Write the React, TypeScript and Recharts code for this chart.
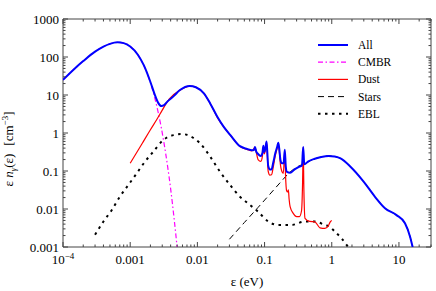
import React from 'react';
import { LineChart, Line, XAxis, YAxis, Legend, ReferenceArea, Label } from 'recharts';

const W = 436;
const H = 291;
const MARGIN = { top: 19, right: 5, left: 0, bottom: 0 };
const Y_AXIS_W = 63;
const X_AXIS_H = 44;
const PLOT_W = W - MARGIN.right - Y_AXIS_W;
const PLOT_H = H - MARGIN.top - X_AXIS_H;
const FRAME = '#444';
const FONT = "'Liberation Serif', 'Times New Roman', 'DejaVu Serif', serif";

// axes
const xDomain = [1e-4, 30];
const yDomain = [1e-3, 1e3];
const xMajor = [1e-4, 1e-3, 1e-2, 0.1, 1, 10];
const xMajorLabels = ['10', '0.001', '0.01', '0.1', '1', '10'];
const yMajor = [1e-3, 1e-2, 0.1, 1, 10, 100, 1000];
const yMajorLabels = ['0.001', '0.01', '0.1', '1', '10', '100', '1000'];

// All (total)
const allE = [1e-4, 1.5e-4, 2e-4, 3e-4, 4e-4, 5e-4, 6.5e-4, 8e-4, 1e-3, 1.3e-3, 1.6e-3, 2e-3, 2.3e-3, 2.6e-3, 2.9e-3, 3.2e-3, 3.6e-3, 4.4e-3, 5.5e-3, 7.7e-3, 9.5e-3, 0.0125, 0.0155, 0.02, 0.025, 0.031, 0.043, 0.055, 0.065, 0.07, 0.072, 0.075, 0.08, 0.088, 0.093, 0.096, 0.099, 0.103, 0.107, 0.11, 0.113, 0.12, 0.127, 0.135, 0.145, 0.155, 0.16, 0.165, 0.172, 0.18, 0.192, 0.2, 0.207, 0.215, 0.24, 0.28, 0.32, 0.36, 0.376, 0.39, 0.45, 0.56, 0.7, 0.9, 1.1, 1.35, 1.9, 3.0, 4.4, 6.2, 9.2, 12.3, 14.6, 16];
const allN = [25, 50, 78, 138, 188, 222, 243, 232, 189, 115, 60, 22, 10.7, 6.3, 5.1, 5.4, 6.8, 9.2, 13.5, 17.3, 16, 11, 6, 2.6, 1.4, 0.88, 0.45, 0.38, 0.35, 0.36, 0.43, 0.33, 0.28, 0.25, 0.3, 0.46, 0.32, 0.4, 0.6, 0.3, 0.14, 0.11, 0.11, 0.17, 0.3, 0.45, 0.55, 0.4, 0.2, 0.16, 0.16, 0.36, 0.13, 0.095, 0.09, 0.11, 0.127, 0.14, 0.43, 0.15, 0.18, 0.21, 0.235, 0.25, 0.24, 0.215, 0.13, 0.052, 0.021, 0.0105, 0.0069, 0.0042, 0.0019, 0.001];

// CMBR
const cmbrE = [1e-4, 1.5e-4, 2e-4, 3e-4, 4e-4, 5e-4, 6.5e-4, 8e-4, 1e-3, 1.3e-3, 1.6e-3, 2e-3, 2.3e-3, 2.6e-3, 2.9e-3, 3.2e-3, 3.6e-3, 4e-3, 4.5e-3, 5e-3, 5.2e-3];
const cmbrN = [25, 50, 78, 138, 188, 222, 243, 232, 189, 115, 59, 21, 8.9, 3.6, 1.4, 0.52, 0.135, 0.034, 0.0057, 0.00095, 0.00045];

// Dust
const dustE = [0.001, 0.0015, 0.002, 0.0025, 0.003, 0.0038, 0.0055, 0.0077, 0.0095, 0.0125, 0.0155, 0.02, 0.025, 0.031, 0.043, 0.055, 0.065, 0.072, 0.075, 0.08, 0.088, 0.093, 0.096, 0.099, 0.103, 0.107, 0.11, 0.113, 0.12, 0.127, 0.135, 0.145, 0.155, 0.16, 0.165, 0.172, 0.18, 0.19, 0.2, 0.205, 0.213, 0.22, 0.226, 0.232, 0.24, 0.267, 0.3, 0.33, 0.355, 0.368, 0.376, 0.385, 0.4, 0.47, 0.56, 0.667, 0.79, 0.89, 0.95, 1.0];
const dustN = [0.16, 0.52, 1.22, 2.3, 4.0, 7.8, 13.4, 17.2, 16, 11, 6, 2.5, 1.4, 0.87, 0.44, 0.37, 0.34, 0.42, 0.32, 0.2, 0.18, 0.25, 0.44, 0.28, 0.36, 0.58, 0.25, 0.1, 0.078, 0.08, 0.13, 0.26, 0.42, 0.53, 0.36, 0.15, 0.1, 0.087, 0.33, 0.08, 0.03, 0.028, 0.032, 0.018, 0.0115, 0.0077, 0.0063, 0.0063, 0.009, 0.05, 0.42, 0.03, 0.0057, 0.0047, 0.0046, 0.0032, 0.0031, 0.0036, 0.0046, 0.005];

// Stars
const starsE = [0.03, 0.05, 0.08, 0.12, 0.17, 0.24, 0.3, 0.4, 0.56, 0.7, 0.9, 1.1, 1.35, 1.9, 3.0, 4.4, 6.2, 9.2, 12.3, 14.6, 16];
const starsN = [0.0016, 0.0044, 0.011, 0.0245, 0.049, 0.094, 0.125, 0.16, 0.21, 0.235, 0.25, 0.24, 0.215, 0.13, 0.052, 0.021, 0.0105, 0.0069, 0.0042, 0.0019, 0.001];

// EBL
const eblE = [3e-4, 4e-4, 5.3e-4, 7e-4, 9.4e-4, 0.00125, 0.00166, 0.0022, 0.0031, 0.0044, 0.0058, 0.0078, 0.0109, 0.0155, 0.0217, 0.0306, 0.043, 0.057, 0.08, 0.113, 0.16, 0.25, 0.4, 0.56, 0.79, 0.94, 1.12, 1.4, 1.75];
const eblN = [0.0021, 0.0047, 0.0093, 0.021, 0.043, 0.087, 0.176, 0.32, 0.65, 0.88, 0.94, 0.83, 0.54, 0.24, 0.096, 0.043, 0.021, 0.014, 0.0085, 0.0047, 0.0038, 0.0038, 0.0047, 0.0047, 0.0038, 0.0034, 0.0025, 0.0017, 0.001];

const toRows = (e: number[], n: number[]) => e.map((v, i) => ({ e: v, n: n[i] }));

const series = [
  { name: 'All', color: '#0000ff', width: 2, dash: undefined as string | undefined },
  { name: 'CMBR', color: '#ff00ff', width: 1.2, dash: '5 2.5 1.5 2.5' },
  { name: 'Dust', color: '#ff0000', width: 1.2, dash: undefined },
  { name: 'Stars', color: '#000000', width: 1, dash: '6 4' },
  { name: 'EBL', color: '#000000', width: 2, dash: '2.5 4.5' },
];

const minor = (majors: number[], max: number) => {
  const out: number[] = [];
  majors.forEach((d) => {
    for (let m = 1; m <= 9; m++) {
      const v = m * d;
      if (v <= max) out.push(v);
    }
  });
  return out;
};
const xTicks = minor(xMajor, xDomain[1]);
const yTicks = minor(yMajor.slice(0, -1), yDomain[1]).concat([1000]);

const textStyle = { fontFamily: FONT };

const XTick = (props: any) => {
  const { x, y, payload } = props;
  const idx = xMajor.indexOf(payload.value);
  const len = idx >= 0 ? 5 : 2.5;
  return (
    <g>
      <line x1={x} y1={y} x2={x} y2={y - len} stroke={FRAME} />
      <line x1={x} y1={y - PLOT_H} x2={x} y2={y - PLOT_H + len} stroke={FRAME} />
      {idx >= 0 && (
        <text x={x} y={y + 17} textAnchor="middle" fontSize={13} style={textStyle} fill="#000">
          {xMajorLabels[idx]}
          {idx === 0 && (
            <tspan dy={-5} fontSize={9}>
              −4
            </tspan>
          )}
        </text>
      )}
    </g>
  );
};

const YTick = (props: any) => {
  const { x, y, payload } = props;
  const idx = yMajor.indexOf(payload.value);
  const len = idx >= 0 ? 5 : 2.5;
  return (
    <g>
      <line x1={x} y1={y} x2={x + len} y2={y} stroke={FRAME} />
      <line x1={x + PLOT_W} y1={y} x2={x + PLOT_W - len} y2={y} stroke={FRAME} />
      {idx >= 0 && (
        <text x={x - 4} y={y + 4.5} textAnchor="end" fontSize={13} style={textStyle} fill="#000">
          {yMajorLabels[idx]}
        </text>
      )}
    </g>
  );
};

const YLabel = () => (
  <text
    transform="translate(13, 149) rotate(-90)"
    textAnchor="middle"
    fontSize={13}
    style={textStyle}
    fill="#000"
  >
    ε <tspan fontStyle="italic">n</tspan>
    <tspan dy={3} fontSize={9} fontStyle="italic">γ</tspan>
    <tspan dy={-3}>(ε)</tspan>
    <tspan dx={8}>[cm</tspan>
    <tspan dy={-5} fontSize={9}>−3</tspan>
    <tspan dy={5}>]</tspan>
  </text>
);

const XLabel = () => (
  <text x={247} y={286} textAnchor="middle" fontSize={13} style={textStyle} fill="#000">
    ε (eV)
  </text>
);

const LegendBox = () => (
  <svg width={110} height={90}>
    {series.map((s, i) => {
      const cy = 9 + i * 17.2;
      return (
        <g key={s.name}>
          <line
            x1={2}
            y1={cy}
            x2={32}
            y2={cy}
            stroke={s.color}
            strokeWidth={s.width}
            strokeDasharray={s.dash}
          />
          <text x={42} y={cy + 4} fontSize={11.5} style={textStyle} fill="#000">
            {s.name}
          </text>
        </g>
      );
    })}
  </svg>
);

export default function App() {
  const [all, cmbr, dust, stars, ebl] = series;
  return (
    <div style={{ position: 'absolute', left: 0, top: 0, background: '#fff' }}>
      <LineChart width={W} height={H} margin={MARGIN}>
        <XAxis
          dataKey="e"
          type="number"
          scale="log"
          domain={xDomain}
          ticks={xTicks}
          interval={0}
          allowDataOverflow
          axisLine={false}
          tickLine={false}
          tickSize={0}
          tickMargin={0}
          height={X_AXIS_H}
          tick={<XTick />}
        >
          <Label content={<XLabel />} />
        </XAxis>
        <YAxis
          dataKey="n"
          type="number"
          scale="log"
          domain={yDomain}
          ticks={yTicks}
          interval={0}
          allowDataOverflow
          axisLine={false}
          tickLine={false}
          tickSize={0}
          tickMargin={0}
          width={Y_AXIS_W}
          tick={<YTick />}
        >
          <Label content={<YLabel />} />
        </YAxis>
        <Legend
          layout="vertical"
          align="center"
          verticalAlign="middle"
          wrapperStyle={{ left: 316, top: 36, width: 110 }}
          content={<LegendBox />}
        />
        <Line data={toRows(eblE, eblN)} dataKey="n" name={ebl.name} type="monotone" stroke={ebl.color} strokeWidth={ebl.width} strokeDasharray={ebl.dash} dot={false} isAnimationActive={false} />
        <Line data={toRows(starsE, starsN)} dataKey="n" name={stars.name} type="monotone" stroke={stars.color} strokeWidth={stars.width} strokeDasharray={stars.dash} dot={false} isAnimationActive={false} />
        <Line data={toRows(cmbrE, cmbrN)} dataKey="n" name={cmbr.name} type="monotone" stroke={cmbr.color} strokeWidth={cmbr.width} strokeDasharray={cmbr.dash} dot={false} isAnimationActive={false} />
        <Line data={toRows(dustE, dustN)} dataKey="n" name={dust.name} type="monotone" stroke={dust.color} strokeWidth={dust.width} dot={false} isAnimationActive={false} />
        <Line data={toRows(allE, allN)} dataKey="n" name={all.name} type="monotone" stroke={all.color} strokeWidth={all.width} dot={false} isAnimationActive={false} />
        <ReferenceArea x1={xDomain[0]} x2={xDomain[1]} y1={yDomain[0]} y2={yDomain[1]} fill="none" stroke={FRAME} strokeWidth={1} ifOverflow="visible" />
      </LineChart>
    </div>
  );
}
